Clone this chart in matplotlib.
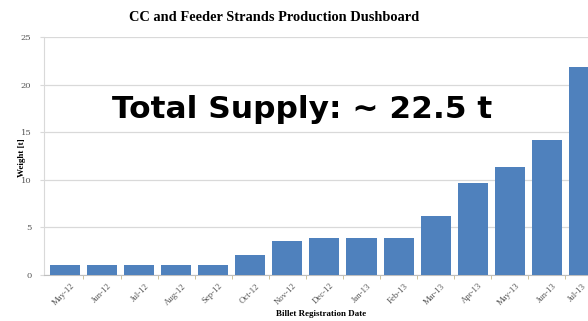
import numpy as np
import matplotlib
matplotlib.use("Agg")
import matplotlib.pyplot as plt
import matplotlib.transforms as mtransforms

# ── data ──────────────────────────────────────────────────────────────────────
months  = ["May-12", "Jun-12", "Jul-12", "Aug-12", "Sep-12", "Oct-12", "Nov-12",
           "Dec-12", "Jan-13", "Feb-13", "Mar-13", "Apr-13", "May-13", "Jun-13",
           "Jul-13"]
weights = [1.05, 1.05, 1.05, 1.05, 1.05, 2.1, 3.6, 3.9, 3.9, 3.9, 6.2, 9.7,
           11.3, 14.2, 21.9]
y_ticks = [0, 5, 10, 15, 20, 25]

# ── figure ────────────────────────────────────────────────────────────────────
fig = plt.figure(figsize=(5.88, 3.21), dpi=100)
ax = fig.add_axes([0.0748, 0.1433, 0.9252, 0.7414])

x = np.arange(len(months))
ax.bar(x, weights, width=0.81, color="#4f81bd", zorder=3)

ax.set_xlim(-0.566, 14.11)
ax.set_ylim(0, 25)
ax.set_yticks(y_ticks)
ax.set_yticklabels([str(t) for t in y_ticks], fontsize=6, color="#555555",
                   family="DejaVu Serif")
ax.grid(axis="y", color="#d9d9d9", lw=0.9, zorder=0)

ax.set_xticks(x)
ax.set_xticklabels(months, rotation=45, ha="right", rotation_mode="anchor",
                   fontsize=6.3, color="#555555", family="Liberation Serif")
ax.set_xticks(x[:-1] + 0.5, minor=True)
ax.tick_params(axis="x", which="major", length=0, pad=5)
ax.tick_params(axis="x", which="minor", length=3, color="#c8b98a")
ax.tick_params(axis="y", length=3, color="#d9d9d9", pad=6)

# nudge labels a little to the right, like the original (last one stays inside)
labels = ax.get_xticklabels()
for i, lbl in enumerate(labels):
    dx = 4 if i < len(labels) - 1 else -1
    off = mtransforms.ScaledTranslation(dx / 72, 0, fig.dpi_scale_trans)
    lbl.set_transform(lbl.get_transform() + off)

for s in ["top", "right"]:
    ax.spines[s].set_visible(False)
ax.spines["left"].set_color("#d9d9d9")
ax.spines["bottom"].set_color("#bfbfbf")

fig.text(0.466, 0.945, "CC and Feeder Strands Production Dushboard",
         ha="center", va="center", fontsize=10.4, fontweight="bold",
         family="Liberation Serif")
fig.text(0.546, 0.022, "Billet Registration Date", ha="center", va="center",
         fontsize=6.5, fontweight="bold", family="Liberation Serif")
fig.text(0.037, 0.51, "Weight [t]", ha="center", va="center", rotation=90,
         fontsize=6.5, fontweight="bold", family="Liberation Serif")

fig.text(0.514, 0.66, "Total Supply: ~ 22.5 t", ha="center", va="center",
         fontsize=22.5, fontweight="bold", family="DejaVu Sans")

fig.savefig("out.png", dpi=100)
